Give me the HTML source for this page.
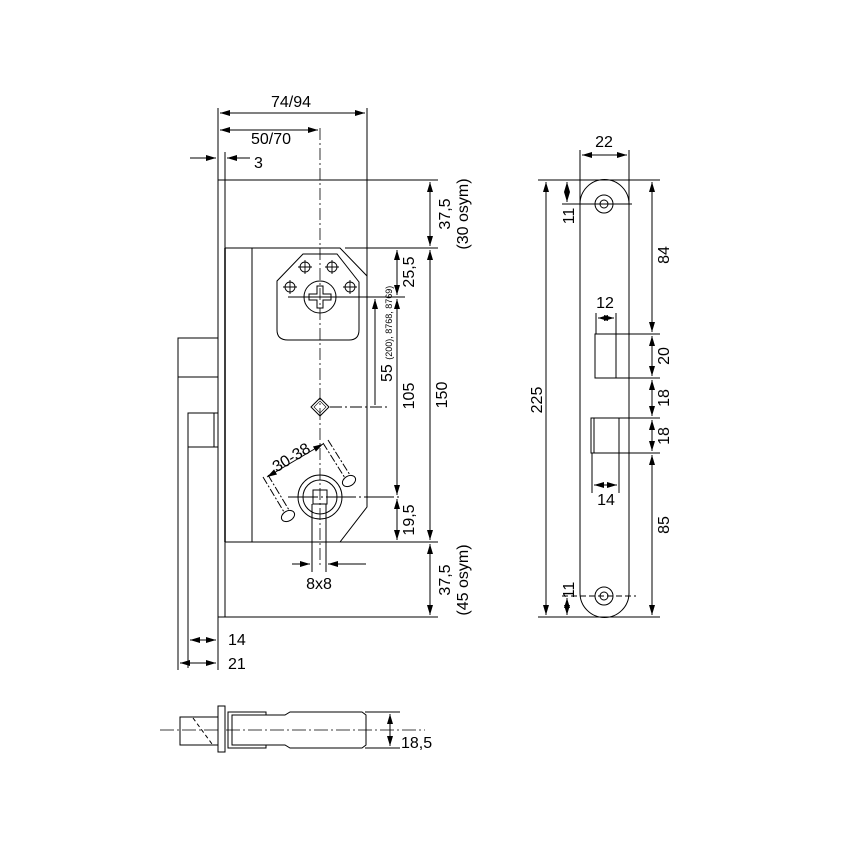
<!DOCTYPE html>
<html><head><meta charset="utf-8"><style>html,body{margin:0;padding:0;background:#fff}svg{display:block}text{font-family:"Liberation Sans",sans-serif;font-size:16px;fill:#000}</style></head><body>
<svg width="852" height="852" viewBox="0 0 852 852" xmlns="http://www.w3.org/2000/svg">
<defs>
<marker id="a" viewBox="0 0 10 6" refX="10" refY="3" markerWidth="10" markerHeight="6" orient="auto-start-reverse" markerUnits="userSpaceOnUse"><path d="M0,0L10,3L0,6z" fill="#000"/></marker>
</defs>
<g stroke="#000" fill="none" stroke-width="1">
<rect x="218" y="180" width="7" height="437" fill="#fff"/>
<path d="M225,248H340L367,276V507L340,542H225"/>
<line x1="252" y1="248" x2="252" y2="542"/>
<line x1="225" y1="248" x2="225" y2="542" stroke-width="1.5"/>
<rect x="178" y="338" width="40" height="39"/>
<rect x="188" y="413" width="30" height="34"/>
<line x1="214" y1="413" x2="214" y2="447"/>
<line x1="188" y1="447" x2="188" y2="668"/>
<line x1="178" y1="377" x2="178" y2="670"/>
<line x1="218" y1="617" x2="218" y2="670"/>
<line x1="190" y1="640" x2="216" y2="640" marker-start="url(#a)" marker-end="url(#a)"/>
<line x1="180" y1="663" x2="216" y2="663" marker-start="url(#a)" marker-end="url(#a)"/>
<line x1="320" y1="128" x2="320" y2="565" stroke-dasharray="12,3,2,3" stroke-width="0.8"/>
<line x1="218" y1="108" x2="218" y2="180"/>
<line x1="367" y1="108" x2="367" y2="276"/>
<line x1="220" y1="113" x2="365" y2="113" marker-start="url(#a)" marker-end="url(#a)"/>
<line x1="220" y1="130" x2="318" y2="130" marker-start="url(#a)" marker-end="url(#a)"/>
<line x1="225" y1="152" x2="225" y2="180"/>
<line x1="190" y1="158" x2="216" y2="158" marker-end="url(#a)"/>
<line x1="250" y1="158" x2="227" y2="158" marker-end="url(#a)"/>
<line x1="225" y1="180" x2="438" y2="180"/>
<line x1="345" y1="248" x2="438" y2="248"/>
<line x1="225" y1="542" x2="438" y2="542"/>
<line x1="225" y1="617" x2="438" y2="617"/>
<line x1="430" y1="182" x2="430" y2="246" marker-start="url(#a)" marker-end="url(#a)"/>
<line x1="430" y1="250" x2="430" y2="540" marker-start="url(#a)" marker-end="url(#a)"/>
<line x1="430" y1="544" x2="430" y2="615" marker-start="url(#a)" marker-end="url(#a)"/>
<line x1="397" y1="250" x2="397" y2="295" marker-start="url(#a)" marker-end="url(#a)"/>
<line x1="397" y1="299" x2="397" y2="495" marker-start="url(#a)" marker-end="url(#a)"/>
<line x1="397" y1="499" x2="397" y2="540" marker-start="url(#a)" marker-end="url(#a)"/>
<line x1="375" y1="299" x2="375" y2="405" marker-start="url(#a)"/>
<path d="M303,254H337L359,282V330Q359,340 349,340H288Q277,340 277,330V281Z"/>
<line x1="288" y1="297" x2="405" y2="297"/>
<circle cx="320" cy="297" r="16"/>
<path d="M317,286h6v8h8v6h-8v8h-6v-8h-8v-6h8z"/>
<g stroke-width="0.9">
<circle cx="305" cy="267" r="5"/><path d="M298,267h14M305,260v14"/>
<circle cx="332" cy="267" r="5"/><path d="M325,267h14M332,260v14"/>
<circle cx="290" cy="287" r="5"/><path d="M283,287h14M290,280v14"/>
<circle cx="350" cy="287" r="5"/><path d="M343,287h14M350,280v14"/>
</g>
<path d="M320,398L329,407L320,416L311,407Z"/>
<path d="M320,401L326,407L320,413L314,407Z" stroke-width="0.6"/>
<line x1="330" y1="407" x2="390" y2="407" stroke-dasharray="12,3,2,3"/>
<circle cx="320" cy="497" r="22"/>
<circle cx="320" cy="497" r="17"/>
<rect x="313" y="490" width="14" height="14"/>
<line x1="288" y1="497" x2="402" y2="497" stroke-dasharray="30,3,2,3"/>
<line x1="312" y1="504" x2="312" y2="572"/>
<line x1="326" y1="504" x2="326" y2="572"/>
<line x1="292" y1="564" x2="310" y2="564" marker-end="url(#a)"/>
<line x1="366" y1="564" x2="328" y2="564" marker-end="url(#a)"/>
<path d="M263,477L284,512M268,475L289,510" stroke-dasharray="8,2,2,2"/>
<path d="M323,443L345,478M328,440L350,475" stroke-dasharray="8,2,2,2"/>
<ellipse cx="288" cy="516" rx="7" ry="5" transform="rotate(-30 288 516)"/>
<ellipse cx="349" cy="481" rx="7" ry="5" transform="rotate(-30 349 481)"/>
<line x1="267" y1="477" x2="323" y2="444" marker-start="url(#a)" marker-end="url(#a)"/>
<path d="M580,204A24.5,24.5 0 0 1 629,204V593A24.5,24.5 0 0 1 580,593Z"/>
<circle cx="604" cy="204" r="9"/><circle cx="604" cy="204" r="4"/>
<circle cx="604" cy="596" r="9"/><circle cx="604" cy="596" r="4"/>
<line x1="580" y1="150" x2="580" y2="204"/>
<line x1="629" y1="150" x2="629" y2="204"/>
<line x1="582" y1="155" x2="627" y2="155" marker-start="url(#a)" marker-end="url(#a)"/>
<line x1="538" y1="180" x2="660" y2="180"/>
<line x1="538" y1="617" x2="660" y2="617"/>
<line x1="546" y1="182" x2="546" y2="615" marker-start="url(#a)" marker-end="url(#a)"/>
<line x1="562" y1="204" x2="632" y2="204"/>
<line x1="562" y1="596" x2="636" y2="596" stroke-dasharray="6,3"/>
<line x1="567" y1="182" x2="567" y2="202" marker-start="url(#a)" marker-end="url(#a)"/>
<line x1="567" y1="598" x2="567" y2="615" marker-start="url(#a)" marker-end="url(#a)"/>
<rect x="595" y="334" width="21" height="44"/>
<rect x="591" y="418" width="28" height="35"/>
<line x1="594" y1="418" x2="594" y2="453"/>
<line x1="596" y1="313" x2="596" y2="334"/>
<line x1="616" y1="313" x2="616" y2="334"/>
<line x1="598" y1="318" x2="614" y2="318" marker-start="url(#a)" marker-end="url(#a)"/>
<line x1="592" y1="453" x2="592" y2="493"/>
<line x1="619" y1="453" x2="619" y2="493"/>
<line x1="594" y1="485" x2="617" y2="485" marker-start="url(#a)" marker-end="url(#a)"/>
<line x1="616" y1="334" x2="660" y2="334"/>
<line x1="596" y1="378" x2="660" y2="378"/>
<line x1="619" y1="418" x2="660" y2="418"/>
<line x1="619" y1="453" x2="660" y2="453"/>
<line x1="652" y1="182" x2="652" y2="332" marker-start="url(#a)" marker-end="url(#a)"/>
<line x1="652" y1="336" x2="652" y2="376" marker-start="url(#a)" marker-end="url(#a)"/>
<line x1="652" y1="380" x2="652" y2="416" marker-start="url(#a)" marker-end="url(#a)"/>
<line x1="652" y1="420" x2="652" y2="451" marker-start="url(#a)" marker-end="url(#a)"/>
<line x1="652" y1="455" x2="652" y2="615" marker-start="url(#a)" marker-end="url(#a)"/>
<line x1="160" y1="730" x2="425" y2="730" stroke-dasharray="14,3,2,3" stroke-width="0.8"/>
<rect x="180" y="717" width="38" height="28"/>
<line x1="193" y1="718" x2="212" y2="744" stroke-dasharray="4,3"/>
<rect x="218" y="706" width="7" height="46" fill="#fff"/>
<path d="M266,712H228V748H266V745H232V715H266Z"/>
<path d="M235,715H285L290,712H362L366,715V745L362,748H290L285,745H235"/>
<line x1="365" y1="712" x2="400" y2="712"/>
<line x1="365" y1="748" x2="400" y2="748"/>
<line x1="390" y1="714" x2="390" y2="746" marker-start="url(#a)" marker-end="url(#a)"/>
</g>
<g>
<text x="291" y="107" text-anchor="middle">74/94</text>
<text x="271" y="144" text-anchor="middle">50/70</text>
<text x="254" y="168">3</text>
<text x="228" y="645">14</text>
<text x="228" y="669">21</text>
<text x="319" y="589" text-anchor="middle">8x8</text>
<text transform="translate(294,462) rotate(-31)" text-anchor="middle">30-38</text>
<text transform="translate(450,214) rotate(-90)" text-anchor="middle">37,5</text>
<text transform="translate(468,214) rotate(-90)" text-anchor="middle">(30 osym)</text>
<text transform="translate(450,580) rotate(-90)" text-anchor="middle">37,5</text>
<text transform="translate(468,580) rotate(-90)" text-anchor="middle">(45 osym)</text>
<text transform="translate(414,272) rotate(-90)" text-anchor="middle">25,5</text>
<text transform="translate(414,396) rotate(-90)" text-anchor="middle">105</text>
<text transform="translate(414,520) rotate(-90)" text-anchor="middle">19,5</text>
<text transform="translate(447,395) rotate(-90)" text-anchor="middle">150</text>
<text transform="translate(392,382) rotate(-90)">55 <tspan font-size="9">(200), 8768, 8769)</tspan></text>
<text x="604" y="147" text-anchor="middle">22</text>
<text transform="translate(542,400) rotate(-90)" text-anchor="middle">225</text>
<text transform="translate(574,216) rotate(-90)" text-anchor="middle">11</text>
<text transform="translate(574,590) rotate(-90)" text-anchor="middle">11</text>
<text x="605" y="308" text-anchor="middle">12</text>
<text x="606" y="505" text-anchor="middle">14</text>
<text transform="translate(669,255) rotate(-90)" text-anchor="middle">84</text>
<text transform="translate(669,356) rotate(-90)" text-anchor="middle">20</text>
<text transform="translate(669,398) rotate(-90)" text-anchor="middle">18</text>
<text transform="translate(669,436) rotate(-90)" text-anchor="middle">18</text>
<text transform="translate(669,525) rotate(-90)" text-anchor="middle">85</text>
<text x="401" y="748">18,5</text>
</g>
</svg>
</body></html>
